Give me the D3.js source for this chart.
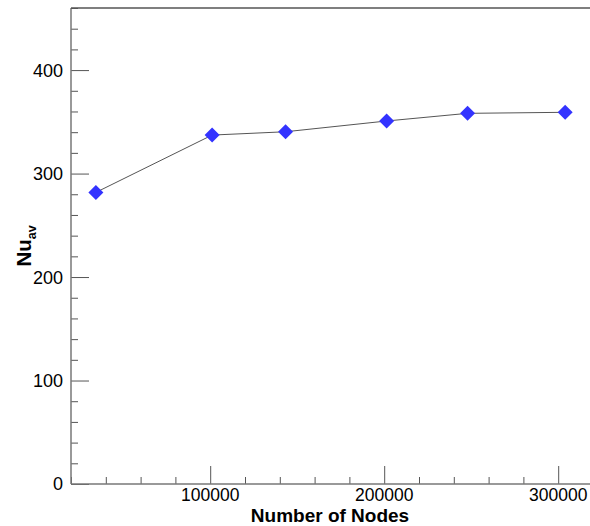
<!DOCTYPE html>
<html>
<head>
<meta charset="utf-8">
<script src="https://cdn.jsdelivr.net/npm/d3@7"></script>
<style>
  body { margin: 0; background: #fff; }
  text { font-family: "Liberation Sans", Arial, sans-serif; }
</style>
</head>
<body>
<div id="chart"></div>
<script>
// grid study: average Nusselt number vs mesh size
var nodes = [34300, 101100, 143300, 201400, 247900, 304000];
var nuAv = [281.8, 337.2, 340.4, 350.8, 358.2, 359.2];
var xMajorTicks = [100000, 200000, 300000];
var yMajorTicks = [0, 100, 200, 300, 400];

var width = 590, height = 526;
var margin = {top: 8, left: 71, bottom: 42};

var svg = d3.select('#chart').append('svg')
  .attr('width', width)
  .attr('height', height);

var x = d3.scaleLinear().domain([20000, 320000]).range([margin.left, margin.left + 522]);
var y = d3.scaleLinear().domain([0, 460]).range([height - margin.bottom, margin.top]);

var xMinor = d3.range(20000, 320001, 20000).filter(function(v) { return xMajorTicks.indexOf(v) < 0; });
var yMinor = d3.range(0, 461, 20).filter(function(v) { return yMajorTicks.indexOf(v) < 0; });

// x axis, ticks pointing inward
var xAxisG = svg.append('g').attr('transform', 'translate(0,' + y(0) + ')');
xAxisG.call(d3.axisTop(x).tickValues(xMinor).tickSize(7).tickFormat(''));
xAxisG.append('g').call(d3.axisTop(x).tickValues(xMajorTicks).tickSize(18).tickFormat(''));
xAxisG.selectAll('.domain').remove();
xAxisG.selectAll('line').attr('stroke', '#555');
xAxisG.selectAll('.xlab').data(xMajorTicks).enter().append('text')
  .attr('class', 'xlab')
  .attr('x', function(d) { return x(d); })
  .attr('y', 17)
  .attr('text-anchor', 'middle')
  .attr('font-size', 17.5)
  .attr('fill', '#000')
  .text(function(d) { return d; });

// y axis
var yAxisG = svg.append('g').attr('transform', 'translate(' + margin.left + ',0)');
yAxisG.call(d3.axisRight(y).tickValues(yMinor).tickSize(7).tickFormat(''));
yAxisG.append('g').call(d3.axisRight(y).tickValues(yMajorTicks).tickSize(18).tickFormat(''));
yAxisG.selectAll('.domain').remove();
yAxisG.selectAll('line').attr('stroke', '#555');
yAxisG.selectAll('.ylab').data(yMajorTicks).enter().append('text')
  .attr('class', 'ylab')
  .attr('x', -8)
  .attr('y', function(d) { return y(d); })
  .attr('dy', '0.36em')
  .attr('text-anchor', 'end')
  .attr('font-size', 18)
  .attr('fill', '#000')
  .text(function(d) { return d; });

// frame: left, bottom, top
svg.append('line').attr('x1', margin.left).attr('x2', margin.left)
  .attr('y1', y(460)).attr('y2', y(0)).attr('stroke', '#777').attr('stroke-width', 1.5);
svg.append('line').attr('x1', margin.left).attr('x2', width)
  .attr('y1', y(0)).attr('y2', y(0)).attr('stroke', '#777').attr('stroke-width', 1.5);
svg.append('line').attr('x1', margin.left).attr('x2', width)
  .attr('y1', y(460)).attr('y2', y(460)).attr('stroke', '#555').attr('stroke-width', 1.5);

var data = nodes.map(function(n, i) { return {x: n, y: nuAv[i]}; });

svg.append('path')
  .datum(data)
  .attr('fill', 'none')
  .attr('stroke', '#555')
  .attr('stroke-width', 1)
  .attr('d', d3.line().x(function(d) { return x(d.x); }).y(function(d) { return y(d.y); }));

svg.selectAll('.pt').data(data).enter().append('path')
  .attr('class', 'pt')
  .attr('transform', function(d) { return 'translate(' + x(d.x) + ',' + y(d.y) + ')'; })
  .attr('d', 'M0,-7.5L7.5,0L0,7.5L-7.5,0Z')
  .attr('fill', '#3333ff');

// axis titles
svg.append('text')
  .attr('x', 330).attr('y', 522)
  .attr('text-anchor', 'middle')
  .attr('font-size', 19)
  .attr('font-weight', 'bold')
  .text('Number of Nodes');

var yt = svg.append('text')
  .attr('transform', 'translate(31,246) rotate(-90)')
  .attr('text-anchor', 'middle')
  .attr('font-size', 20.5)
  .attr('font-weight', 'bold');
yt.append('tspan').text('Nu');
yt.append('tspan').attr('font-size', 12.5).attr('dy', 5).text('av');
</script>
</body>
</html>
